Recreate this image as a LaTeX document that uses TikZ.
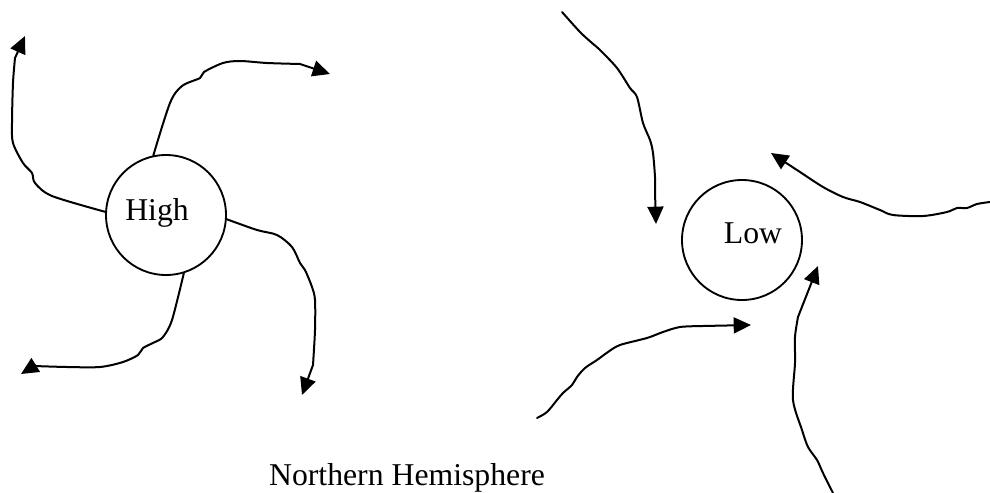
\documentclass[tikz,border=0pt]{standalone}
\usepackage{fontspec}
\setmainfont{Liberation Serif}
\usetikzlibrary{arrows.meta}

\begin{document}
\begin{tikzpicture}[
    x=0.75pt, y=-0.75pt,
    ring/.style={
        circle, draw=black, line width=1.4pt,
        minimum size=90pt, inner sep=0pt,
    },
    tag/.style={
        anchor=base, inner sep=0pt,
        font=\fontsize{23.8pt}{28pt}\selectfont,
    },
    wind/.style={
        -{Triangle[length=13pt, width=12pt]},
        line width=1.5pt, draw=black,
        line join=round, line cap=round,
    },
]

% =============== Frame ===============
\useasboundingbox (0, 0) rectangle (990, 493);

% =============== High pressure (outflow) ===============
\node[ring] (high) at (166, 215) {};
\node[tag] (hightxt) at (157, 220) {High};

\draw[wind] plot[smooth, tension=0.5] coordinates {
    (high.177) (52,196) (35,183) (32,173) (23,163) (13,143)
    (12,123) (13,83) (15,58)} -- (25,36);
\draw[wind] plot[smooth, tension=0.5] coordinates {
    (high.102) (170,103) (182,86) (200,78) (204,72) (223,63)
    (240,61) (267,63) (300,64)} -- (330,74);
\draw[wind] plot[smooth, tension=0.5] coordinates {
    (high.-4) (257,230) (277,235) (292,247) (300,263) (305,270)
    (312,287) (315,300) (315,330) (313,365)} -- (302,395);
\draw[wind] plot[smooth, tension=0.5] coordinates {
    (high.-73) (172,320) (163,337) (155,342) (143,348) (138,355)
    (123,362) (100,367) (67,367) (34,366)} -- (21,374);

% =============== Low pressure (inflow) ===============
\node[ring] (low) at (742, 240) {};
\node[tag] (lowtxt) at (753, 243) {Low};

\draw[wind] plot[smooth, tension=0.5] coordinates {
    (562,12) (580,32) (592,43) (600,50) (617,68) (630,88)
    (637,97) (643,123) (650,140) (653,153) (655,177) (655,192)}
    -- (656,224);
\draw[wind] plot[smooth, tension=0.5] coordinates {
    (990,202) (977,204) (967,208) (957,208) (947,212) (923,216)
    (893,215) (880,210) (860,202) (843,197) (823,187) (800,172)}
    -- (771,153);
\draw[wind] plot[smooth, tension=0.5] coordinates {
    (537,418) (547,412) (557,400) (563,393) (572,385) (577,377)
    (585,368) (597,360) (608,352) (620,345) (647,338) (663,332)
    (680,327) (703,326)} -- (751,325);
\draw[wind] plot[smooth, tension=0.5] coordinates {
    (833,493) (823,473) (817,460) (808,447) (802,430) (793,400)
    (795,363) (795,337) (798,317)} -- (818,266);

% =============== Caption ===============
\node[tag] (hemi) at (407, 485) {Northern Hemisphere};

\end{tikzpicture}
\end{document}
